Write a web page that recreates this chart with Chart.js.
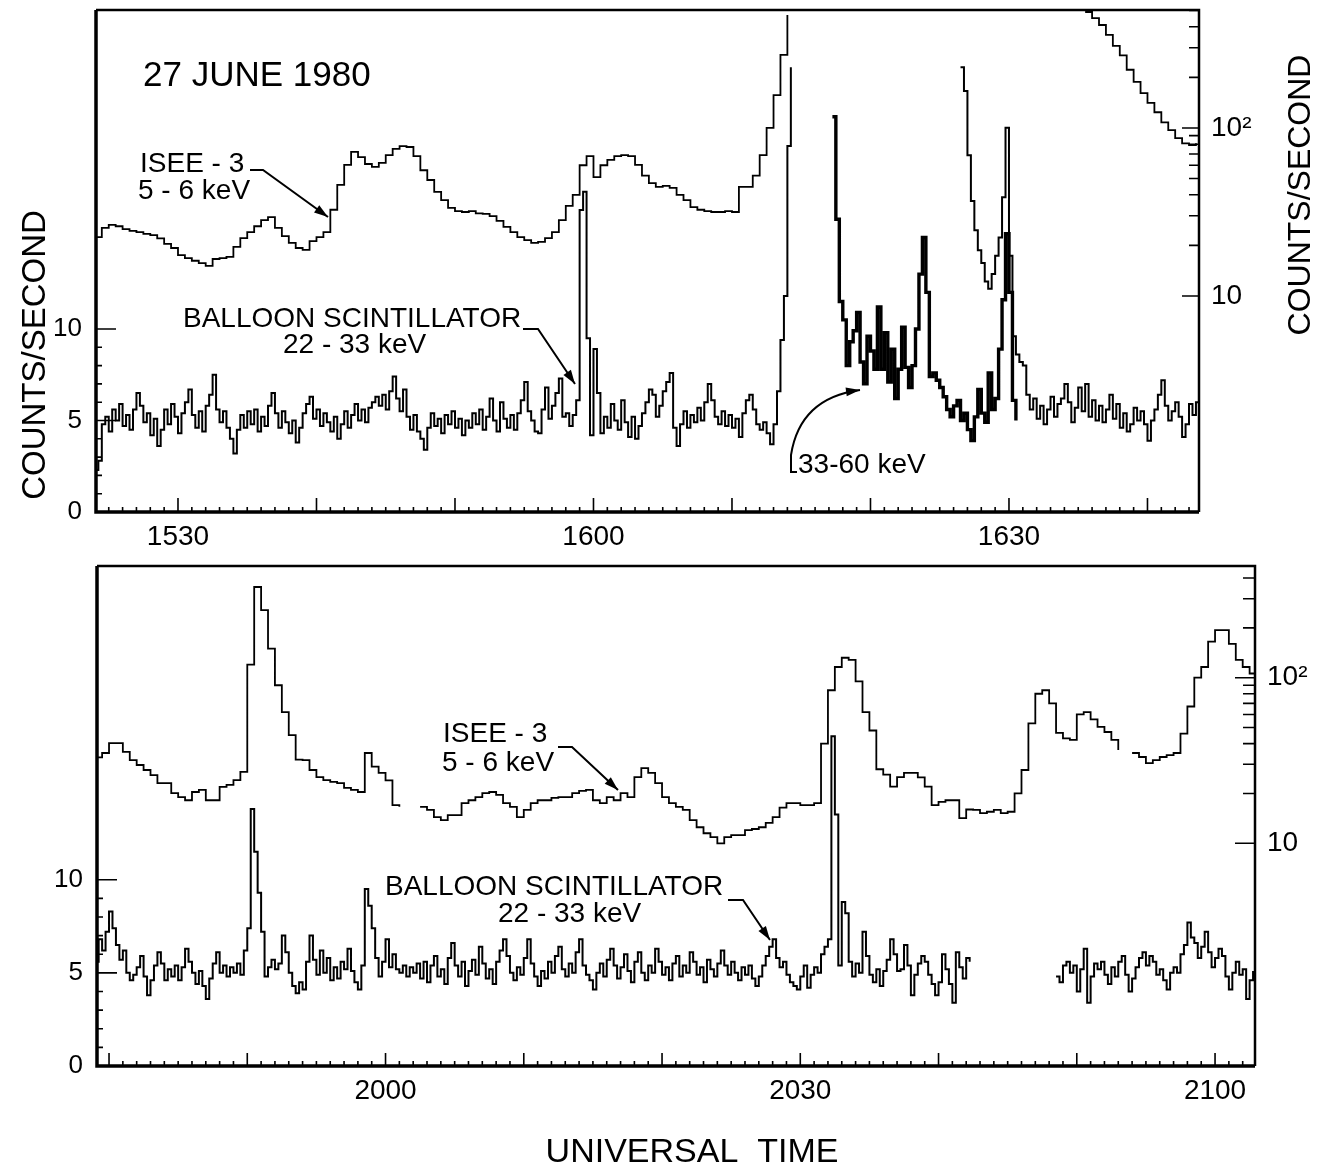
<!DOCTYPE html>
<html>
<head>
<meta charset="utf-8">
<script src="https://cdn.jsdelivr.net/npm/chart.js@4.4.1/dist/chart.umd.min.js"></script>
<style>
  body { margin: 0; background: #fff; width: 1328px; height: 1174px; overflow: hidden; position: relative; }
  canvas { position: absolute; left: 0; }
  #top { top: 0; }
  #bottom { top: 540px; }
</style>
</head>
<body>
<canvas id="top" width="1328" height="560"></canvas>
<canvas id="bottom" width="1328" height="634"></canvas>
<script>
const FONT = '"Liberation Sans", Arial, sans-serif';

// time axis is minutes of the day (UT); series start time + sample step in minutes
// --- top panel: 1524 - 1644 UT ---
const topIseeStart = 924, topIseeStep = 0.5;
const topIsee = [
  22.4, 25.4, 26.5, 26, 25, 24.4, 24, 23.4, 23, 22,
  20.4, 19.3, 17.5, 16.8, 16.2, 15.7, 15.1, 16.6, 16.8, 17.1,
  19.6, 22.1, 24, 26, 28.3, 29.5, 25.4, 22.7, 20.7, 19.3,
  18.8, 21.2, 22.4, 24, 32.6, 45.8, 60.3, 72, 67, 61,
  58.6, 62, 69, 75, 78, 77, 68, 56, 49, 41.6,
  37.2, 33.4, 32, 31.6, 32, 31, 30.8, 29.9, 28, 25.8,
  24, 22.4, 21.5, 20.7, 21, 22.1, 24, 28.3, 34.4, 40,
  60, 68, 51, 60, 64.5, 68, 69, 68, 60.3, 52,
  47, 44.6, 45.2, 44, 40, 37.2, 33.8, 32.6, 32, 31.6,
  31.6, 32, 31.6, 44.6, 44.6, 52, 69, 100, 157, 272,
  470,
  null, null, null, null, null, null, null, null, null, null,
  null, null, null, null, null, null, null, null, null, null,
  null, null, null, null, null, null, null, null, null, null,
  null, null, null, null, null, null, null, null, null, null,
  null, null,
  490, 450, 410, 358, 308, 270, 222, 188, 161, 141, 124, 108, 97, 87, 81, 79, 81
];

const topBalloonStart = 924, topBalloonStep = 0.25;
const topBalloon = [
  2.3, 2.8, 4.8, 5.2, 4.4, 5.6, 5.0, 5.9, 4.7, 5.3, 4.5, 5.6, 6.5, 5.8, 4.9, 5.4, 4.2, 5.1, 3.6, 4.5,
  5.6, 4.8, 5.9, 5.2, 4.3, 5.4, 6.0, 6.7, 5.3, 4.6, 5.5, 4.4, 5.8, 6.4, 7.5, 5.6, 4.9, 5.5, 4.6, 4.0,
  3.2, 4.5, 5.3, 4.6, 5.5, 4.8, 5.6, 4.4, 5.2, 4.7, 5.8, 6.5, 5.4, 4.6, 5.5, 4.9, 4.3, 5.0, 3.8, 4.6,
  5.4, 5.9, 6.3, 5.1, 5.6, 4.7, 5.4, 4.9, 4.4, 5.2, 4.0, 4.8, 5.5, 4.6, 5.3, 5.9, 5.0, 5.6, 4.9, 5.7,
  6.0, 6.3, 5.8, 6.4, 5.6, 6.6, 7.4, 6.2, 5.5, 6.7, 5.2, 4.5, 5.3, 4.4, 4.0, 3.4, 4.6, 5.4, 4.7, 5.1,
  4.3, 5.3, 4.8, 5.5, 4.6, 5.1, 4.2, 5.0, 4.6, 5.4, 4.8, 5.6, 4.5, 5.2, 6.2, 5.0, 4.4, 6.0, 5.1, 4.6,
  5.3, 4.5, 5.4, 6.1, 7.1, 5.5, 5.0, 4.4, 4.3, 5.6, 6.8, 5.1, 5.8, 6.5, 7.3, 5.2, 5.4, 4.7, 5.3, 6.1,
  16.5, 17.5, 9.5, 4.2, 8.9, 6.5, 4.3, 5.2, 4.6, 5.9, 5.0, 4.5, 6.1, 4.9, 4.1, 5.2, 4.0, 4.7, 5.4, 6.0,
  6.7, 6.4, 5.2, 5.8, 6.6, 7.1, 7.6, 4.6, 3.6, 4.8, 5.5, 4.6, 5.3, 4.9, 5.7, 5.0, 6.0, 7.0, 6.1, 5.2,
  4.8, 5.5, 4.7, 5.3, 4.6, 5.1, 4.1, 5.4, 6.1, 6.4, 5.6, 4.8, 4.5, 4.9, 4.3, 3.7, 4.8, 6.6, 9.4, 11.8,
  20.0, 24.3,
  null, null, null, null, null, null, null, null, null, null, null, null,
  null, null, null, null, null, null, null, null, null, null, null, null,
  null, null, null, null, null, null, null, null, null, null, null, null,
  null, null, null, null, null, null, null, null, null, null, null, null,
  24.3, 23.0, 19.5, 17.0, 15.4, 14.3, 13.6, 12.6, 12.2, 13.0, 14.0, 15.0, 17.2, 21.0, 14.0, 9.6, 8.6, 8.2, 8.0, 6.4,
  5.6, 6.2, 5.1, 5.8, 4.8, 5.6, 6.3, 5.2, 5.9, 6.2, 7.0, 6.0, 4.9, 5.7, 6.8, 5.5, 7.0, 5.2, 6.1, 5.0,
  5.8, 4.9, 5.6, 6.4, 5.1, 5.9, 4.6, 5.4, 4.4, 4.8,
  5.7, 5.0, 5.5, 4.8, 3.9, 5.0, 5.6, 6.4, 7.2, 5.8, 5.0, 5.5, 6.0, 5.2, 4.1, 4.8, 5.9, 5.3, 6.0, 5.5
];

const topHardStart = 977.25, topHardStep = 0.25;
const topHard = [
  21.6, 16.0, 11.5, 10.5, 8.0, 9.3, 9.9, 10.9, 8.2, 7.0,
  9.6, 8.8, 7.8, 11.2, 7.8, 9.8, 7.1, 8.9, 6.2, 7.8,
  10.1, 7.9, 6.8, 8.0, 10.0, 13.0, 15.0, 12.0, 7.4, 7.6,
  7.2, 6.8, 6.3, 5.6, 5.2, 5.8, 6.1, 5.0, 5.4, 4.5,
  3.9, 5.2, 6.7, 5.4, 4.9, 7.6, 5.6, 6.2, 8.9, 11.6,
  15.2, 12.0, 6.1, 5.0
];

// --- bottom panel: 1939 - 2103 UT ---
const botIseeStart = 1179, botIseeStep = 0.5;
const botIsee = [
  33, 35.1, 40.3, 40.3, 35.6, 31.8, 29.7, 27.7, 25.8, 23.1,
  23.1, 20.1, 19.0, 18.2, 20.4, 21.0, 18.2, 18.2, 21.9, 22.5,
  24.1, 27, 120, 353, 256, 150, 90, 62, 45, 32,
  31.8, 27.7, 25.1, 24.1, 23.5, 23.1, 21.6, 21.0, 20.4, 35.1,
  29.0, 26.6, 24.0, 17.0, 16.6, null, null, 16.6, 15.9, 14.4,
  13.8, 14.8, 14.8, 17.5, 18.2, 19.0, 20.1, 20.4, 19.6, 17.5,
  16.6, 14.4, 15.9, 17.5, 18.2, 18.2, 18.8, 19.0, 19.0, 20.1,
  20.7, 21.0, 18.2, 17.5, 19.0, 18.2, 20.1, 19.0, 25.1, 28.4,
  26.6, 23.1, 19.0, 17.5, 16.6, 15.9, 13.8, 12.5, 11.5, 10.9,
  10.0, 10.9, 11.2, 11.2, 12.0, 12.2, 12.5, 13.3, 14.4, 16.4,
  17.5, 17.5, 17.0, 17.0, 17.5, 40, 84, 116, 132, 128,
  95, 62, 48, 28, 26, 22, 25.1, 26.6, 26.6, 25,
  22, 17, 17.8, 18.2, 18.2, 14.2, 16, 15.9, 15.2, 15.5,
  15.9, 15.2, 15.5, 20, 27.7, 53, 80, 84, 70, 46.4,
  43, 42.1, 60, 62, 56, 50.4, 47, 42.1, 36.6, null,
  35.1, 33.2, 30.5, 31.8, 33.2, 34.1, 35.1, 46, 67, 100,
  116, 165, 194, 194, 160, 128, 116, 106, 100
];

const botBalloonStart = 1179, botBalloonStep = 0.25;
const botBalloon = [
  5.6, 6.8, 6.2, 7.2, 8.3, 7.4, 6.5, 5.7, 6.2, 5.0, 4.6, 4.9, 5.3, 5.9, 4.8, 3.8, 4.6, 5.4, 6.1, 5.5,
  4.6, 5.2, 4.8, 5.4, 4.6, 5.3, 6.3, 5.6, 5.0, 4.4, 5.1, 4.3, 3.6, 4.7, 5.5, 6.1, 5.0, 5.4, 4.8, 5.3,
  5.0, 5.5, 4.9, 6.2, 7.4, 13.8, 11.5, 9.3, 7.2, 4.8, 5.3, 5.7, 5.2, 5.5, 7.0, 6.1, 5.0, 4.3, 3.9, 4.5,
  4.1, 5.6, 7.0, 5.7, 4.9, 6.2, 5.0, 5.8, 4.6, 5.3, 4.7, 5.6, 5.2, 6.3, 5.1, 4.5, 4.1, 5.4, 9.5, 8.6,
  7.4, 5.8, 4.8, 5.6, 6.8, 5.3, 6.0, 5.2, 5.0, 5.4, 4.8, 5.3, 5.0, 5.5, 4.7, 5.6, 4.5, 5.4, 5.9, 4.8,
  5.2, 4.4, 5.8, 6.6, 5.4, 4.8, 5.6, 4.3, 5.1, 5.7, 4.9, 6.4, 5.5, 4.7, 5.2, 4.4, 5.6, 6.2, 6.8, 5.9,
  5.0, 4.6, 5.3, 4.9, 5.8, 6.8, 5.5, 4.8, 4.3, 5.1, 4.7, 5.6, 5.0, 5.9, 6.4, 5.2, 4.8, 5.5, 5.0, 6.1,
  6.8, 5.4, 4.9, 4.6, 4.1, 5.0, 5.5, 4.8, 5.7, 6.3, 5.4, 4.7, 5.3, 6.0, 5.1, 4.5, 5.6, 6.1, 5.0, 4.6,
  5.4, 5.0, 6.3, 5.6, 4.9, 5.3, 4.6, 5.5, 5.9, 4.8, 5.4, 5.0, 6.1, 5.6, 4.9, 5.3, 4.5, 5.7, 5.2, 4.8,
  5.5, 6.2, 5.4, 4.9, 5.6, 5.0, 4.6, 5.3, 4.9, 5.4, 4.7, 4.3, 4.8, 5.4, 5.9, 6.4, 6.8, 5.8, 5.3, 5.6,
  4.9, 4.5, 4.3, 4.1, 4.8, 5.4, 4.2, 4.9, 5.3, 5.0, 6.0, 6.4, 6.8, 17.7, 13.5, 5.4, 8.8, 8.2, 5.6, 4.8,
  5.5, 5.0, 7.2, 5.9, 4.9, 4.5, 5.2, 4.3, 5.1, 5.7, 6.8, 6.0, 5.1, 5.2, 6.5, 5.4, 3.8, 4.9, 5.5, 5.9,
  5.6, 4.9, 4.4, 3.8, 4.5, 6.0, 5.2, 4.4, 3.4, 6.1, 5.3, 4.7, 5.8, 5.6,
  null, null, null, null, null, null, null, null, null, null, null, null,
  null, null, null, null, null, null, null, null, null, null, null, null,
  4.8, 4.5, 5.4, 5.6, 5.0, 5.4, 4.0, 5.2, 6.3, 3.4, 4.8, 5.5, 5.2, 5.6, 4.9, 4.4, 5.3, 4.8, 5.6, 5.9,
  4.9, 4.0, 4.7, 5.3, 5.8, 6.1, 5.4, 5.9, 5.6, 4.9, 5.2, 4.6, 4.1, 5.0, 5.3, 5.0, 6.0, 6.5, 7.7, 6.9,
  6.6, 5.8, 6.4, 7.2, 6.1, 5.3, 5.8, 6.3, 5.9, 4.8, 4.1, 5.0, 5.6, 4.9, 5.2, 3.6, 4.6, 5.1
];

// axis ranges and tick values
const topRange = [924.08, 1003.72];
const botRange = [1179.13, 1262.89];
const leftTicks = [0, 1, 2, 3, 4, 5, 6, 7, 8, 9, 10];
const logTicksTop = [10, 20, 30, 40, 50, 60, 70, 80, 90, 100, 200, 300, 400, 500];
const logTicksBot = [10, 20, 30, 40, 50, 60, 70, 80, 90, 100, 200, 300, 400];

function series(start, step, vals) {
  return vals.map((v, i) => ({ x: start + i * step, y: v }));
}

function hhmm(v) {
  const h = Math.floor(v / 60), m = v % 60;
  return h + String(m).padStart(2, '0');
}

// Frame, inward ticks and annotations
const decor = {
  id: 'decor',
  afterDatasetsDraw(chart, args, o) {
    const ctx = chart.ctx, a = chart.chartArea;
    const sx = chart.scales.x, sl = chart.scales.yL, sr = chart.scales.yR;
    const dy = o.offsetY || 0;
    ctx.save();
    ctx.strokeStyle = '#000';
    ctx.fillStyle = '#000';

    ctx.lineWidth = 1.6;
    ctx.beginPath();
    sx.ticks.forEach(t => {
      const p = sx.getPixelForValue(t.value);
      const len = t.value % 10 === 0 ? o.xMajor : o.xMinor;
      ctx.moveTo(p, a.bottom);
      ctx.lineTo(p, a.bottom - len);
    });
    sl.ticks.forEach(t => {
      if (t.value === 0) return;
      const p = sl.getPixelForValue(t.value);
      const len = t.value % 5 === 0 ? 20 : 6;
      ctx.moveTo(a.left, p);
      ctx.lineTo(a.left + len, p);
    });
    sr.ticks.forEach(t => {
      const p = sr.getPixelForValue(t.value);
      const major = t.value === 10 || t.value === 100;
      ctx.moveTo(a.right, p);
      ctx.lineTo(a.right - (major ? o.rMajor : o.rMinor), p);
    });
    ctx.stroke();

    ctx.lineWidth = 3.5;
    ctx.beginPath();
    ctx.moveTo(a.left, a.top);
    ctx.lineTo(a.left, a.bottom);
    ctx.lineTo(a.right, a.bottom);
    ctx.stroke();
    ctx.lineWidth = 2.5;
    ctx.beginPath();
    ctx.moveTo(a.left, a.top);
    ctx.lineTo(a.right, a.top);
    ctx.lineTo(a.right, a.bottom);
    ctx.stroke();

    o.texts.forEach(tx => {
      ctx.font = tx.size + 'px ' + FONT;
      ctx.textBaseline = 'alphabetic';
      if (tx.rot) {
        ctx.save();
        ctx.translate(tx.x, tx.y - dy);
        ctx.rotate(-Math.PI / 2);
        ctx.textAlign = 'center';
        ctx.fillText(tx.t, 0, 0);
        ctx.restore();
      } else {
        ctx.textAlign = tx.align || 'left';
        ctx.fillText(tx.t, tx.x, tx.y - dy);
      }
    });

    ctx.lineWidth = 2;
    o.arrows.forEach(ar => {
      const pts = ar.pts.map(p => [p[0], p[1] - dy]);
      ctx.beginPath();
      ctx.moveTo(pts[0][0], pts[0][1]);
      let from, tip;
      if (ar.curve) {
        for (let i = 1; i < pts.length; i++) ctx.lineTo(pts[i][0], pts[i][1]);
        const c = [ar.curve[0][0], ar.curve[0][1] - dy];
        tip = [ar.curve[1][0], ar.curve[1][1] - dy];
        ctx.quadraticCurveTo(c[0], c[1], tip[0], tip[1]);
        from = c;
      } else {
        for (let i = 1; i < pts.length; i++) ctx.lineTo(pts[i][0], pts[i][1]);
        tip = pts[pts.length - 1];
        from = pts[pts.length - 2];
      }
      ctx.stroke();
      const ang = Math.atan2(tip[1] - from[1], tip[0] - from[0]);
      const bx = tip[0] - 14 * Math.cos(ang), by = tip[1] - 14 * Math.sin(ang);
      ctx.beginPath();
      ctx.moveTo(tip[0], tip[1]);
      ctx.lineTo(bx - 4.5 * Math.sin(ang), by + 4.5 * Math.cos(ang));
      ctx.lineTo(bx + 4.5 * Math.sin(ang), by - 4.5 * Math.cos(ang));
      ctx.closePath();
      ctx.fill();
    });
    ctx.restore();
  }
};

function makePanel(id, p) {
  const datasets = p.sets.map(s => ({
    data: s.data,
    yAxisID: s.axis,
    borderColor: '#000',
    borderWidth: s.width,
    stepped: true,
    pointRadius: 0,
    spanGaps: false,
    fill: false
  }));
  return new Chart(document.getElementById(id), {
    type: 'line',
    data: { datasets },
    plugins: [decor],
    options: {
      responsive: false,
      animation: false,
      events: [],
      layout: { padding: { top: p.padTop, left: 0, right: 0, bottom: 0 } },
      plugins: {
        legend: { display: false },
        tooltip: { enabled: false },
        decor: p.decor
      },
      scales: {
        x: {
          type: 'linear',
          min: p.range[0],
          max: p.range[1],
          grid: { display: false, drawTicks: false },
          border: { display: false },
          afterBuildTicks: s => {
            const t = [];
            for (let v = Math.ceil(s.min); v <= s.max; v++) t.push({ value: v });
            s.ticks = t;
          },
          afterFit: s => { s.height = p.xHeight; s.paddingLeft = 0; s.paddingRight = 0; },
          ticks: {
            autoSkip: false,
            maxRotation: 0,
            padding: p.xPad,
            color: '#000',
            font: { family: FONT, size: 28 },
            callback: v => (v % 30 === 0 ? hhmm(v) : '')
          }
        },
        yL: {
          type: 'linear',
          position: 'left',
          min: 0,
          max: p.leftMax,
          grid: { display: false, drawTicks: false },
          border: { display: false },
          afterBuildTicks: s => { s.ticks = leftTicks.map(v => ({ value: v })); },
          afterFit: s => { s.width = p.leftW; s.paddingTop = 0; s.paddingBottom = 0; },
          ticks: {
            padding: 14,
            color: '#000',
            font: { family: FONT, size: 26 },
            callback: v => (v % 5 === 0 ? String(v) : '')
          }
        },
        yR: {
          type: 'logarithmic',
          position: 'right',
          min: p.logRange[0],
          max: p.logRange[1],
          grid: { display: false, drawTicks: false },
          border: { display: false },
          afterBuildTicks: s => { s.ticks = p.logTicks.map(v => ({ value: v })); },
          afterFit: s => { s.width = p.rightW; s.paddingTop = 0; s.paddingBottom = 0; },
          ticks: {
            padding: 12,
            color: '#000',
            font: { family: FONT, size: 28 },
            callback: v => (v === 10 ? '10' : v === 100 ? '10\u00B2' : '')
          }
        }
      }
    }
  });
}

makePanel('top', {
  range: topRange,
  padTop: 10,
  xHeight: 48,
  xPad: 8,
  leftW: 96,
  rightW: 129,
  leftMax: 27.43,
  logRange: [0.518, 503.5],
  logTicks: logTicksTop,
  sets: [
    { data: series(topIseeStart, topIseeStep, topIsee), axis: 'yR', width: 1.8 },
    { data: series(topBalloonStart, topBalloonStep, topBalloon), axis: 'yL', width: 2 },
    { data: series(topHardStart, topHardStep, topHard), axis: 'yL', width: 3.4 }
  ],
  decor: {
    offsetY: 0, xMajor: 14, xMinor: 5, rMajor: 17, rMinor: 10,
    texts: [
      { t: '27 JUNE 1980', x: 143, y: 86, size: 35 },
      { t: 'ISEE - 3', x: 140, y: 172, size: 28 },
      { t: '5 - 6 keV', x: 138, y: 199, size: 28 },
      { t: 'BALLOON SCINTILLATOR', x: 183, y: 327, size: 28 },
      { t: '22 - 33 keV', x: 283, y: 353, size: 28 },
      { t: '33-60 keV', x: 798, y: 473, size: 28 },
      { t: 'COUNTS/SECOND', x: 45, y: 355, size: 33, rot: true },
      { t: 'COUNTS/SECOND', x: 1310, y: 195, size: 32, rot: true }
    ],
    arrows: [
      { pts: [[250, 170], [263, 170], [328, 217]] },
      { pts: [[523, 329], [538, 329], [575, 384]] },
      { pts: [[797, 472], [791, 472], [791, 455]], curve: [[800, 398], [860, 390]] }
    ]
  }
});

makePanel('bottom', {
  range: botRange,
  padTop: 26,
  xHeight: 108,
  xPad: 8,
  leftW: 97,
  rightW: 73,
  leftMax: 26.84,
  logRange: [0.452, 472.6],
  logTicks: logTicksBot,
  sets: [
    { data: series(botIseeStart, botIseeStep, botIsee), axis: 'yR', width: 1.8 },
    { data: series(botBalloonStart, botBalloonStep, botBalloon), axis: 'yL', width: 2 }
  ],
  decor: {
    offsetY: 540, xMajor: 13, xMinor: 5, rMajor: 20, rMinor: 12,
    texts: [
      { t: 'ISEE - 3', x: 443, y: 742, size: 28 },
      { t: '5 - 6 keV', x: 442, y: 771, size: 28 },
      { t: 'BALLOON SCINTILLATOR', x: 385, y: 895, size: 28 },
      { t: '22 - 33 keV', x: 498, y: 922, size: 28 },
      { t: 'UNIVERSAL  TIME', x: 692, y: 1162, size: 34, align: 'center' }
    ],
    arrows: [
      { pts: [[558, 747], [572, 747], [618, 790]] },
      { pts: [[728, 900], [743, 900], [770, 940]] }
    ]
  }
});
</script>
</body>
</html>
